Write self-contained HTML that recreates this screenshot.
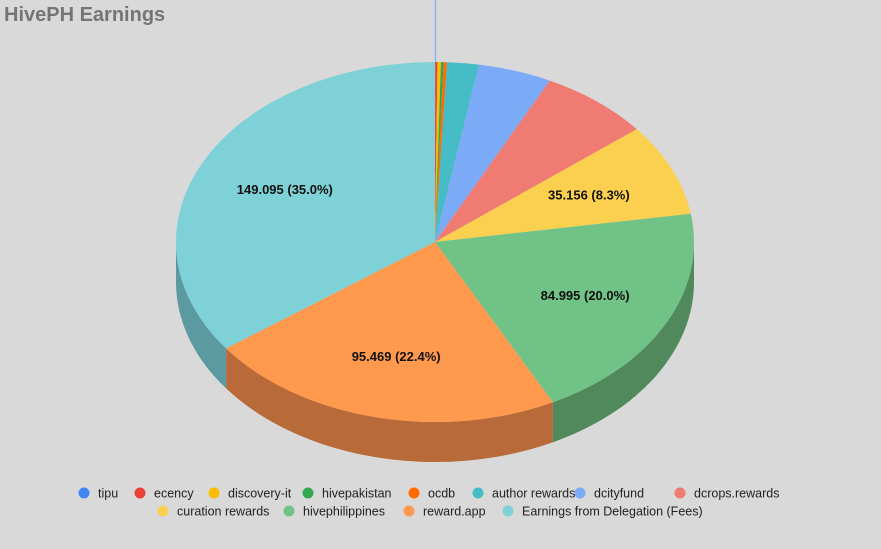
<!DOCTYPE html>
<html><head><meta charset="utf-8"><style>
body{margin:0;background:#d9d9d9;width:881px;height:544px;overflow:hidden;font-family:"Liberation Sans",sans-serif}
</style></head><body>
<svg width="881" height="544">
<rect width="881" height="544" fill="#d9d9d9"/>
<text x="4" y="21" font-size="20" font-weight="bold" fill="#757575">HivePH Earnings</text>
<g id="pie"></g>
<g id="legend"></g>
</svg>
<script>
const categories=["tipu","ecency","discovery-it","hivepakistan","ocdb","author rewards","dcityfund","dcrops.rewards","curation rewards","hivephilippines","reward.app","Earnings from Delegation (Fees)"];
const values=[0.05,0.6,0.9,0.7,0.9,8.4,19.5,29.4,35.156,84.995,95.469,149.095];
const labelText=["","","","","","","","","35.156 (8.3%)","84.995 (20.0%)","95.469 (22.4%)","149.095 (35.0%)"];
const colors=["#4285f4","#ea4335","#fbbc04","#34a853","#ff6d01","#46bdc6","#7baaf7","#f07b72","#fcd04f","#71c287","#ff994d","#7ed1d7"];
const sideColors=["#2e5daa","#a32f25","#b08403","#247539","#b24c01","#318489","#5677ad","#a85650","#b09237","#508a5c","#b86a38","#5a9aa0"];
const ns="http://www.w3.org/2000/svg";
const cx=435,cy=242,rx=259,ry=180,depth=40;
const pie=document.getElementById('pie');
const total=values.reduce((a,b)=>a+b,0);
function pt(t,dy){return [cx+rx*Math.sin(t),cy-ry*Math.cos(t)+(dy||0)];}
function mk(tag,attrs){const e=document.createElementNS(ns,tag);for(const k in attrs)e.setAttribute(k,attrs[k]);return e;}
let acc=0;const angles=[];
values.forEach(v=>{const a=acc/total*2*Math.PI;acc+=v;angles.push([a,acc/total*2*Math.PI]);});
// side walls
angles.forEach(([a,b],i)=>{
  const s=Math.max(a,Math.PI/2),e=Math.min(b,3*Math.PI/2);
  if(e<=s)return;
  const p1=pt(s),p2=pt(e),p3=pt(e,depth),p4=pt(s,depth);
  const d=`M${p1} A${rx},${ry} 0 0 1 ${p2} L${p3} A${rx},${ry} 0 0 0 ${p4} Z`;
  const el=mk('path',{d:d,fill:sideColors[i]});
  
  
  pie.appendChild(el);
});
// top slices
angles.forEach(([a,b],i)=>{
  const p1=pt(a),p2=pt(b);const large=(b-a)>Math.PI?1:0;
  const d=`M${cx},${cy} L${p1} A${rx},${ry} 0 ${large} 1 ${p2} Z`;
  const el=mk('path',{d:d,fill:colors[i]});
  
  
  pie.appendChild(el);
  if(labelText[i]){
    const m=(a+b)/2,f=0.65;
    const t=mk('text',{x:cx+rx*f*Math.sin(m),y:cy-ry*f*Math.cos(m)+5,'text-anchor':'middle','font-size':'13','font-weight':'bold',fill:'#111'});
    t.textContent=labelText[i];
    
    
    pie.appendChild(t);
  }
});
// tipu exploded line
const tl=mk('line',{x1:cx+0.5,y1:0,x2:cx+0.5,y2:cy-ry,stroke:"#8ab4f8","stroke-width":1.5});


pie.appendChild(tl);
// legend
const legendX=[84,140,214,308,414,478,580,680,163,289,409,508];
const lg=document.getElementById('legend');
categories.forEach((c,i)=>{
  const y=i<8?493:511;
  const g=mk('g',{});
  
  
  g.appendChild(mk('circle',{cx:legendX[i],cy:y,r:5.5,fill:colors[i]}));
  const t=mk('text',{x:legendX[i]+14,y:y+4.5,'font-size':'12.5',fill:'#222'});
  t.textContent=c;g.appendChild(t);lg.appendChild(g);
});
</script>
</body></html>
